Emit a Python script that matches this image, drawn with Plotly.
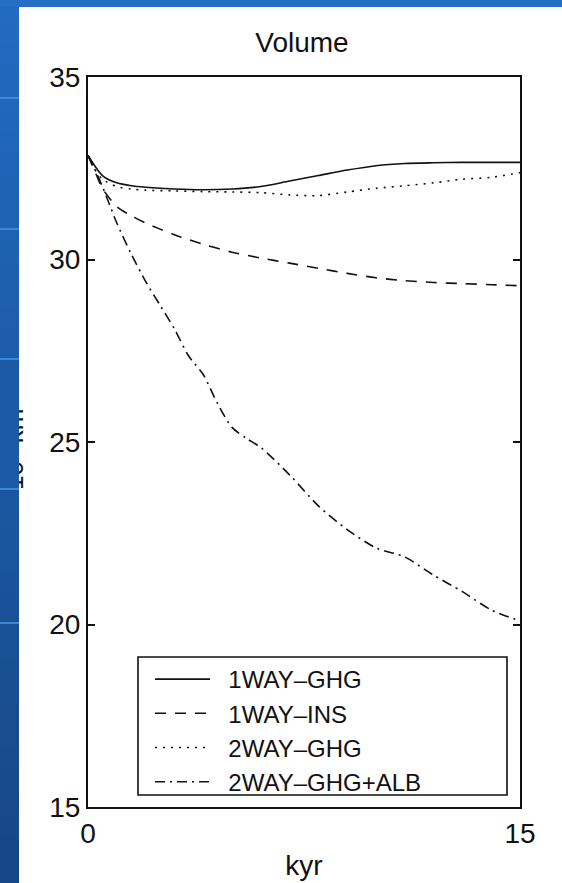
import plotly.graph_objects as go

# ---------------- data ----------------
t_main = [0, 0.25, 0.5, 1, 1.5, 2, 3, 4, 5, 6, 7, 8, 9, 10, 11, 12, 13, 14, 15]
oneway_ghg = [32.85, 32.55, 32.3, 32.1, 32.02, 31.98, 31.93, 31.91, 31.93, 32.0,
              32.15, 32.3, 32.45, 32.57, 32.63, 32.65, 32.66, 32.66, 32.66]
oneway_ins = [32.85, 32.4, 31.95, 31.45, 31.2, 31.0, 30.68, 30.42, 30.2, 30.04,
              29.9, 29.76, 29.62, 29.5, 29.42, 29.37, 29.34, 29.31, 29.28]
twoway_ghg = [32.85, 32.45, 32.2, 32.0, 31.93, 31.9, 31.88, 31.86, 31.85, 31.83,
              31.77, 31.75, 31.85, 31.95, 32.02, 32.1, 32.2, 32.25, 32.38]
t_alb = [0, 0.25, 0.5, 0.75, 1, 1.5, 2, 2.5, 3, 3.5, 4, 4.5, 5, 5.5, 6, 7, 8,
         9, 10, 11, 12, 13, 14, 15]
twoway_ghg_alb = [32.85, 32.45, 32.0, 31.5, 31.0, 30.15, 29.4, 28.75, 28.1, 27.35,
                  26.85, 26.05, 25.4, 25.1, 24.85, 24.1, 23.25, 22.6, 22.1, 21.85,
                  21.35, 20.9, 20.4, 20.1]

x_ticks = [0, 15]
y_ticks = [15, 20, 25, 30, 35]
series_names = ["1WAY\u2013GHG", "1WAY\u2013INS", "2WAY\u2013GHG", "2WAY\u2013GHG+ALB"]
y_label = "10\u2076 km\u00b3"

# ---------------- layout helpers ----------------
W, H = 562, 883
L, R, T, B = 88, 520, 77, 807          # plot area in pixels


def px_x(p):
    return (p - L) / (R - L)


def px_y(p):
    return (B - p) / (B - T)


FONT = "Liberation Sans, Arial, Helvetica, sans-serif"
INK = "#111111"
GAP = "\u00a0\u00a0"   # space between legend sample and its label

fig = go.Figure()
fig.add_trace(go.Scatter(x=t_main, y=oneway_ghg, name=GAP + series_names[0], mode="lines",
                         line=dict(color=INK, width=1.6, shape="spline", smoothing=0.8)))
fig.add_trace(go.Scatter(x=t_main, y=oneway_ins, name=GAP + series_names[1], mode="lines",
                         line=dict(color=INK, width=1.6, dash="11px,9px",
                                   shape="spline", smoothing=0.8)))
fig.add_trace(go.Scatter(x=t_main, y=twoway_ghg, name=GAP + series_names[2], mode="lines",
                         line=dict(color=INK, width=1.6, dash="2px,6px",
                                   shape="spline", smoothing=0.8)))
fig.add_trace(go.Scatter(x=t_alb, y=twoway_ghg_alb, name=GAP + series_names[3], mode="lines",
                         line=dict(color=INK, width=1.6, dash="10px,5px,2px,5px",
                                   shape="spline", smoothing=0.8)))

# ---------------- slide background ----------------
top_blue = (0x22, 0x6b, 0xc2)
bot_blue = (0x16, 0x47, 0x86)
STREAK = "rgb(60,135,220)"


def blue_at(py):
    f = max(0.0, min(1.0, py / H))
    c = [round(a + (b - a) * f) for a, b in zip(top_blue, bot_blue)]
    return "rgb(%d,%d,%d)" % tuple(c)


shapes = []
# white slide panel
shapes.append(dict(type="rect", xref="paper", yref="paper", layer="below",
                   x0=px_x(19), x1=px_x(W + 5), y0=px_y(H + 5), y1=px_y(7),
                   fillcolor="white", line=dict(width=0)))
# left blue strip (gradient bands)
band = 22
for y0 in range(0, H, band):
    shapes.append(dict(type="rect", xref="paper", yref="paper", layer="below",
                       x0=px_x(-5), x1=px_x(19), y0=px_y(y0 + band + 1), y1=px_y(y0),
                       fillcolor=blue_at(y0 + band / 2), line=dict(width=0)))
for yl in [97, 228, 358, 488, 622]:
    shapes.append(dict(type="rect", xref="paper", yref="paper", layer="below",
                       x0=px_x(-5), x1=px_x(19), y0=px_y(yl + 2), y1=px_y(yl),
                       fillcolor=STREAK, line=dict(width=0)))
# top strip
shapes.append(dict(type="rect", xref="paper", yref="paper", layer="below",
                   x0=px_x(-5), x1=px_x(W + 5), y0=px_y(7), y1=px_y(-5),
                   fillcolor="#246fc4", line=dict(width=0)))
# legend frame
shapes.append(dict(type="rect", xref="paper", yref="paper", layer="above",
                   x0=px_x(138), x1=px_x(507), y0=px_y(795), y1=px_y(657),
                   fillcolor="rgba(0,0,0,0)", line=dict(color=INK, width=1.6)))

annotations = []
# y axis label: mostly hidden behind the slide border in the original
annotations.append(dict(text=y_label, textangle=-90,
                        xref="paper", yref="paper", x=px_x(31), y=px_y(445),
                        xanchor="right", yanchor="middle", showarrow=False,
                        font=dict(family=FONT, size=26, color=INK)))


def cover(y_top, y_bot, color):
    annotations.append(dict(text=" ", xref="paper", yref="paper",
                            x=px_x(-2), y=px_y(y_top), xanchor="left", yanchor="top",
                            width=21, height=y_bot - y_top, bgcolor=color,
                            borderpad=0, borderwidth=0, showarrow=False,
                            font=dict(size=8, color=color)))


cover(360, 488, blue_at(424))
cover(488, 490, STREAK)
cover(490, 520, blue_at(505))

axis_common = dict(showline=True, linecolor=INK, linewidth=2, mirror="ticks",
                   ticks="inside", ticklen=7, tickwidth=1.6, tickcolor=INK,
                   showgrid=False, zeroline=False, automargin=False,
                   tickfont=dict(family=FONT, size=28, color=INK))

fig.update_layout(
    width=W, height=H, autosize=False,
    margin=dict(l=L, r=W - R, t=T, b=H - B, pad=0, autoexpand=False),
    paper_bgcolor=blue_at(300), plot_bgcolor="white",
    title=dict(text="Volume", x=px_x(302), xanchor="center", xref="paper",
               y=1 - 42 / H, yanchor="middle",
               font=dict(family=FONT, size=28, color=INK)),
    xaxis=dict(range=[0, 15], tickvals=x_ticks, ticktext=[str(v) for v in x_ticks],
               title=dict(text="kyr", standoff=8, font=dict(family=FONT, size=28, color=INK)),
               **axis_common),
    yaxis=dict(range=[15, 35], tickvals=y_ticks, ticktext=[str(v) for v in y_ticks],
               **axis_common),
    legend=dict(x=px_x(150), y=px_y(657), xanchor="left", yanchor="top",
                bgcolor="rgba(0,0,0,0)", borderwidth=0, itemwidth=55,
                font=dict(family=FONT, size=24, color=INK), tracegroupgap=0),
    shapes=shapes, annotations=annotations, showlegend=True,
)

fig.write_html("out.html", config={"displayModeBar": False},
               post_script="document.body.style.margin='0';"
                           "document.body.style.overflow='hidden';")
